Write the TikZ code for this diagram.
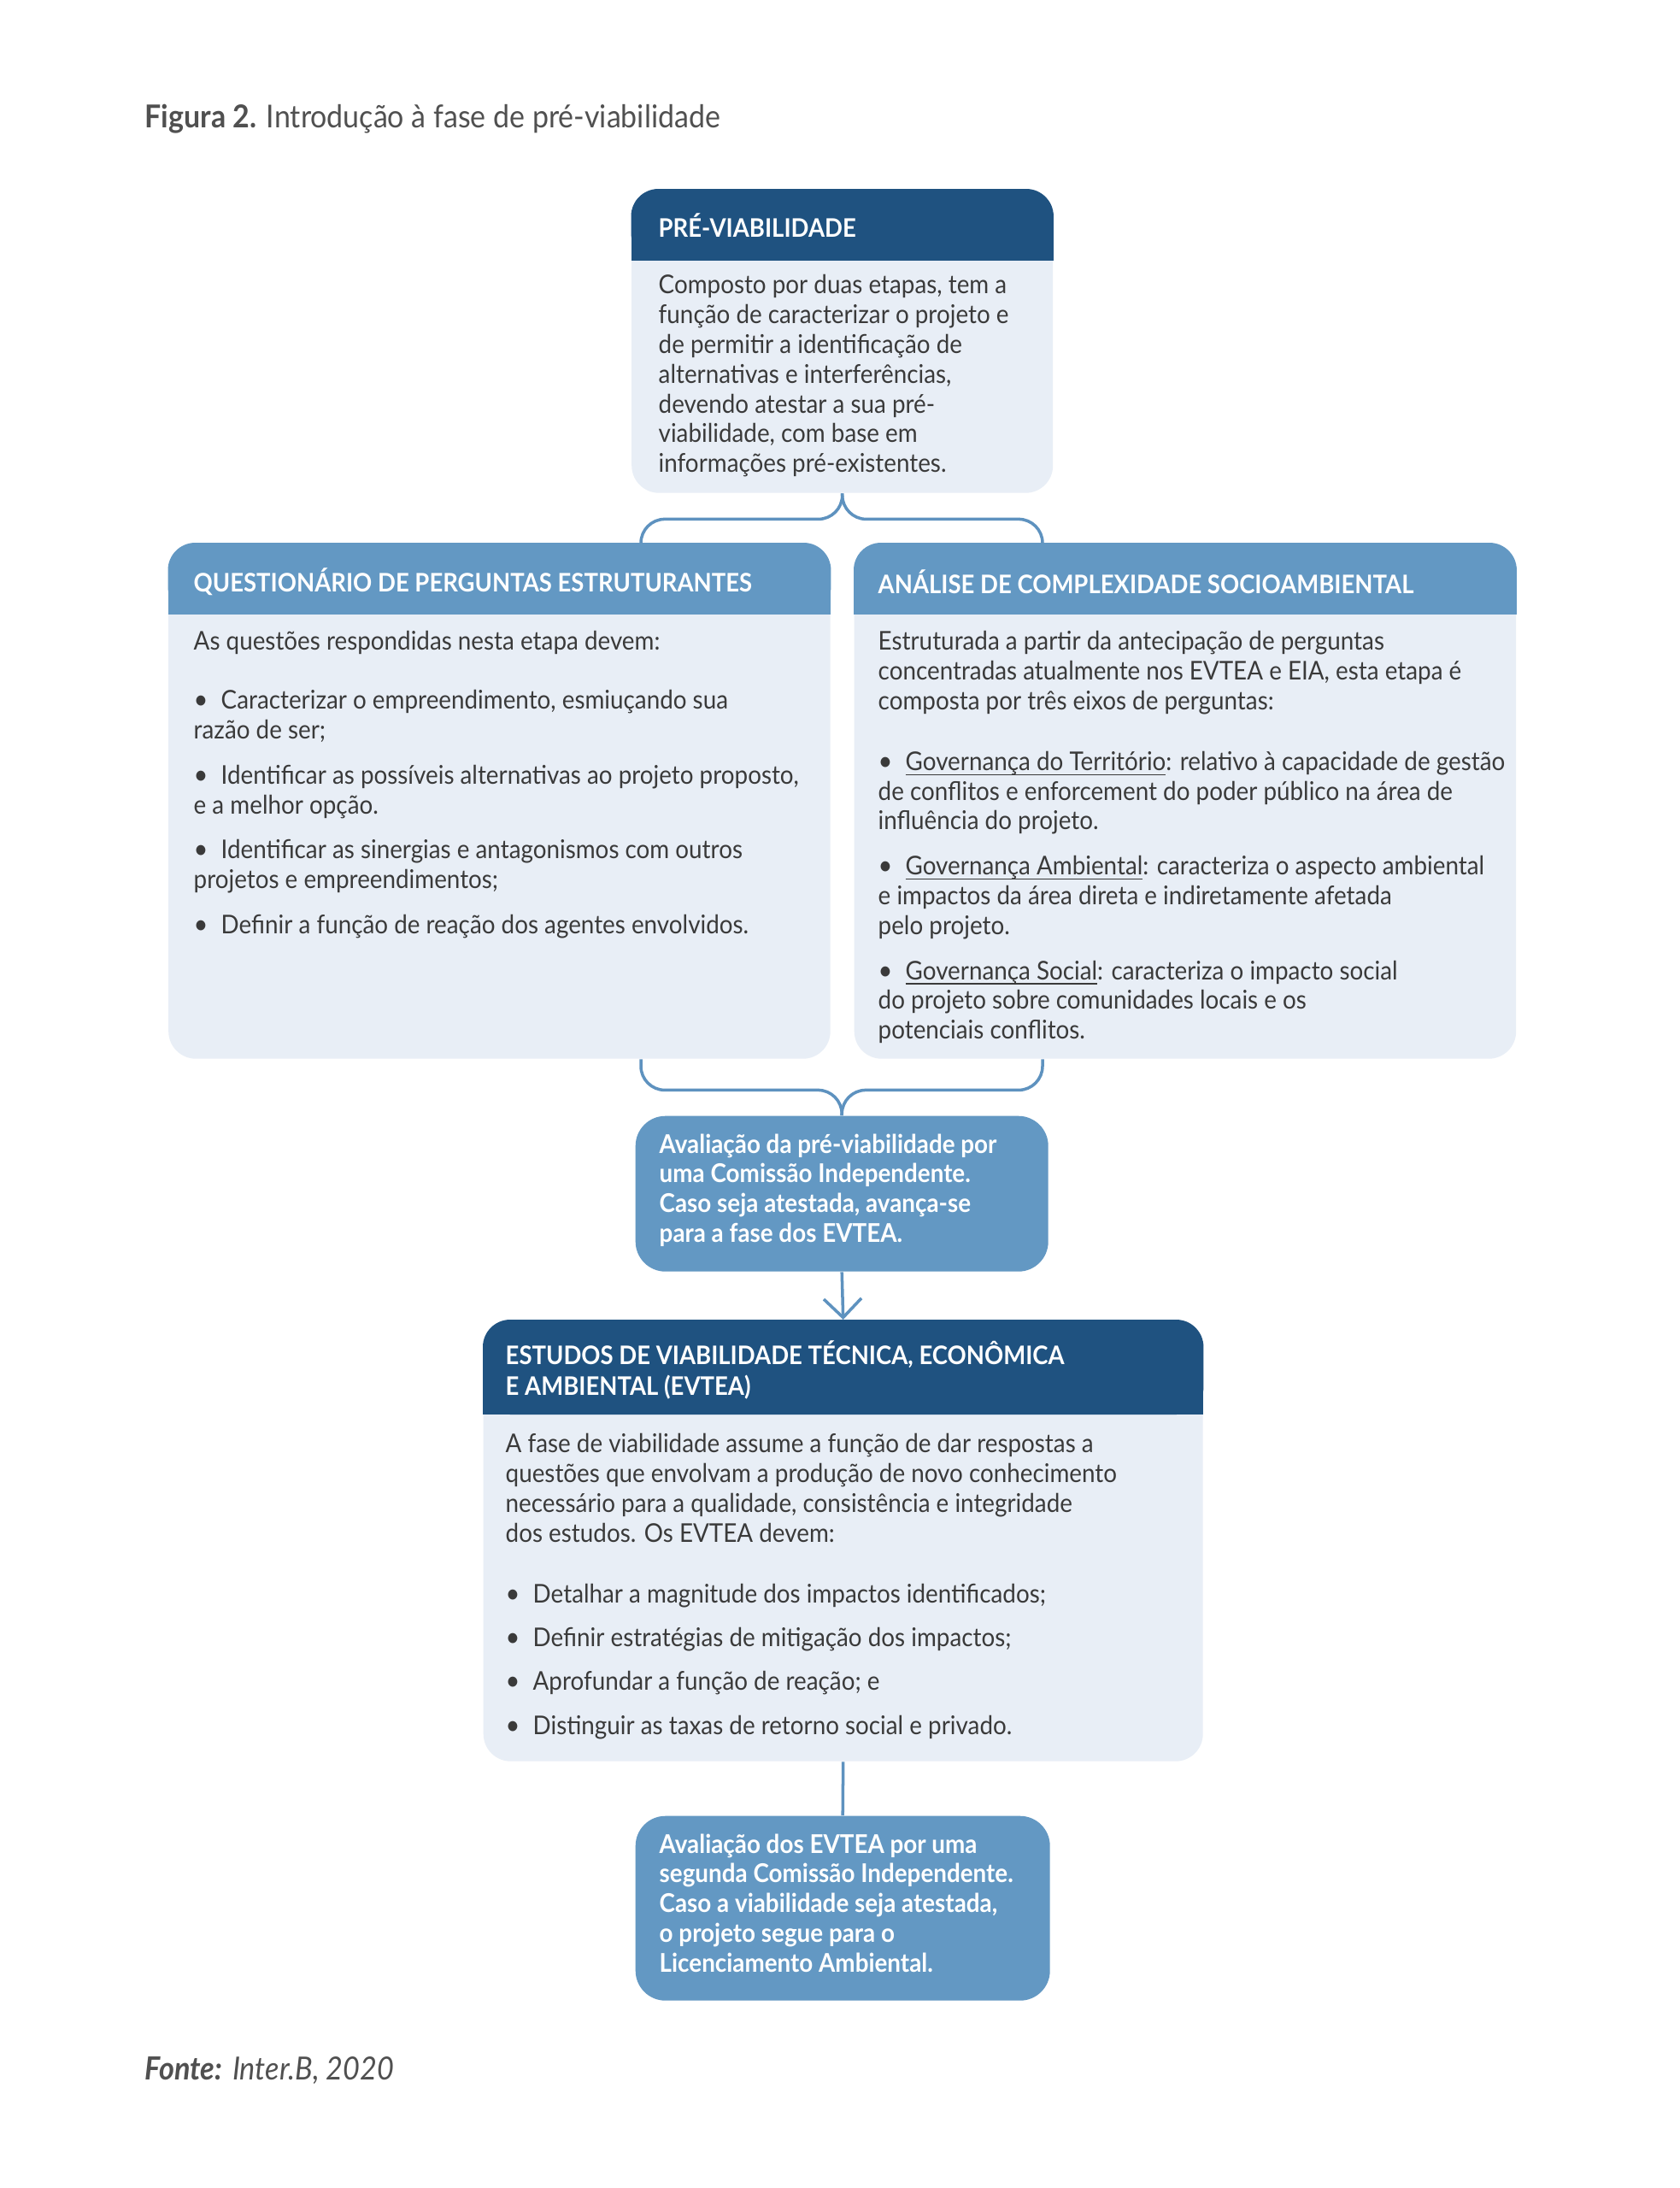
\documentclass[tikz,border=0pt]{standalone}
\usepackage{fontspec}
\setmainfont{Lato}[FakeStretch=0.92]
\usepackage{tikz}
\usetikzlibrary{calc}
\usetikzlibrary{arrows.meta}
\usepackage{xcolor}

\definecolor{hdrdark}{HTML}{1F5280}
\definecolor{hdrmid}{HTML}{6398C3}
\definecolor{cardfill}{HTML}{E8EEF6}
\definecolor{connblue}{HTML}{5E92BF}
\definecolor{bodygray}{HTML}{3A3A3A}
\definecolor{titlegray}{HTML}{505050}

\tikzset{
    card/.style={fill=cardfill, rounded corners=0.32cm, inner sep=0pt, anchor=north west},
    bluecard/.style={fill=hdrmid, rounded corners=0.35cm, inner sep=0pt, anchor=north west},
    hdrtxt/.style={anchor=west, inner sep=0pt, text=white, align=left, font=\fontsize{8.5}{10.4}\selectfont\bfseries},
    bodytxt/.style={anchor=north west, inner sep=0pt, text=bodygray, align=left, font=\fontsize{8.6}{9.9}\selectfont},
    whitetxt/.style={anchor=north west, inner sep=0pt, text=white, align=left, font=\fontsize{8.6}{9.9}\selectfont\bfseries},
    conn/.style={draw=connblue, line width=1pt, rounded corners=0.28cm},
}
\newcommand{\bul}{{\small\textbullet}\hspace{0.5em}}
\newcommand{\ulgov}[1]{\underline{\smash{#1}}}

\begin{document}
\begin{tikzpicture}
    \fill[white] (0,0) rectangle (19.65,-25.60);
    \useasboundingbox (0,0) rectangle (19.65,-25.60);

    % title and source
    \node[anchor=west, inner sep=0pt, text=titlegray, font=\fontsize{10.5}{12}\selectfont] (title) at (1.69,-1.39)
        {\textbf{Figura 2.} Introdução à fase de pré-viabilidade};
    \node[anchor=west, inner sep=0pt, text=titlegray, font=\fontsize{10.6}{12}\selectfont] (fonte) at (1.69,-24.23)
        {\textbf{\textit{Fonte:}} \textit{Inter.B, 2020}};

    % pre-viabilidade
    \node[card, minimum width=4.93cm, minimum height=3.55cm] (pre) at (7.385,-2.21) {};
    \fill[hdrdark, rounded corners=0.32cm] (pre.north west) rectangle ($(pre.north east)+(0,-0.835)$);
    \fill[hdrdark] ($(pre.north west)+(0,-0.45)$) rectangle ($(pre.north east)+(0,-0.835)$);
    \node[hdrtxt] (pretit) at (7.70,-2.64) {PRÉ-VIABILIDADE};
    \node[bodytxt] (pretxt) at (7.70,-3.21) {Composto por duas etapas, tem a\\
        função de caracterizar o projeto e\\
        de permitir a identificação de\\
        alternativas e interferências,\\
        devendo atestar a sua pré-\\
        viabilidade, com base em\\
        informações pré-existentes.};

    % questionario
    \node[card, minimum width=7.745cm, minimum height=6.03cm] (qpe) at (1.965,-6.35) {};
    \fill[hdrmid, rounded corners=0.32cm] (qpe.north west) rectangle ($(qpe.north east)+(0,-0.835)$);
    \fill[hdrmid] ($(qpe.north west)+(0,-0.45)$) rectangle ($(qpe.north east)+(0,-0.835)$);
    \node[hdrtxt] (qpetit) at (2.26,-6.81) {QUESTIONÁRIO DE PERGUNTAS ESTRUTURANTES};
    \node[bodytxt] (qpetxt) at (2.26,-7.38) {As questões respondidas nesta etapa devem:\\[0.34cm]
        \bul Caracterizar o empreendimento, esmiuçando sua\\
        razão de ser;\\[0.18cm]
        \bul Identificar as possíveis alternativas ao projeto proposto,\\
        e a melhor opção.\\[0.18cm]
        \bul Identificar as sinergias e antagonismos com outros\\
        projetos e empreendimentos;\\[0.18cm]
        \bul Definir a função de reação dos agentes envolvidos.};

    % analise
    \node[card, minimum width=7.745cm, minimum height=6.03cm] (acs) at (9.99,-6.35) {};
    \fill[hdrmid, rounded corners=0.32cm] (acs.north west) rectangle ($(acs.north east)+(0,-0.835)$);
    \fill[hdrmid] ($(acs.north west)+(0,-0.45)$) rectangle ($(acs.north east)+(0,-0.835)$);
    \node[hdrtxt] (acstit) at (10.27,-6.81) {ANÁLISE DE COMPLEXIDADE SOCIOAMBIENTAL};
    \node[bodytxt] (acstxt) at (10.27,-7.38) {Estruturada a partir da antecipação de perguntas\\
        concentradas atualmente nos EVTEA e EIA, esta etapa é\\
        composta por três eixos de perguntas:\\[0.36cm]
        \bul\ulgov{Governança do Território}: relativo à capacidade de gestão\\
        de conflitos e enforcement do poder público na área de\\
        influência do projeto.\\[0.18cm]
        \bul\ulgov{Governança Ambiental}: caracteriza o aspecto ambiental\\
        e impactos da área direta e indiretamente afetada\\
        pelo projeto.\\[0.18cm]
        \bul\ulgov{Governança Social}: caracteriza o impacto social\\
        do projeto sobre comunidades locais e os\\
        potenciais conflitos.};

    % avaliacao 1
    \node[bluecard, minimum width=4.83cm, minimum height=1.82cm] (aval) at (7.43,-13.05) {};
    \node[whitetxt] (avaltxt) at (7.71,-13.26) {Avaliação da pré-viabilidade por\\
        uma Comissão Independente.\\
        Caso seja atestada, avança-se\\
        para a fase dos EVTEA.};

    % evtea
    \node[card, minimum width=8.42cm, minimum height=5.16cm] (evt) at (5.65,-15.44) {};
    \fill[hdrdark, rounded corners=0.32cm] (evt.north west) rectangle ($(evt.north east)+(0,-1.11)$);
    \fill[hdrdark] ($(evt.north west)+(0,-0.45)$) rectangle ($(evt.north east)+(0,-1.11)$);
    \node[hdrtxt] (evttit) at (5.91,-16.03) {ESTUDOS DE VIABILIDADE TÉCNICA, ECONÔMICA\\
        E AMBIENTAL (EVTEA)};
    \node[bodytxt] (evttxt) at (5.91,-16.77) {A fase de viabilidade assume a função de dar respostas a\\
        questões que envolvam a produção de novo conhecimento\\
        necessário para a qualidade, consistência e integridade\\
        dos estudos. Os EVTEA devem:\\[0.36cm]
        \bul Detalhar a magnitude dos impactos identificados;\\[0.165cm]
        \bul Definir estratégias de mitigação dos impactos;\\[0.165cm]
        \bul Aprofundar a função de reação; e\\[0.165cm]
        \bul Distinguir as taxas de retorno social e privado.};

    % avaliacao 2
    \node[bluecard, minimum width=4.85cm, minimum height=2.16cm] (fin) at (7.43,-21.24) {};
    \node[whitetxt] (fintxt) at (7.71,-21.45) {Avaliação dos EVTEA por uma\\
        segunda Comissão Independente.\\
        Caso a viabilidade seja atestada,\\
        o projeto segue para o\\
        Licenciamento Ambiental.};

    % connectors
    \coordinate (qleg) at (7.50,0);
    \coordinate (aleg) at (12.20,0);
    \draw[conn] (pre.south) -- ++(0,-0.30) -| (qpe.north -| qleg);
    \draw[conn] (pre.south) -- ++(0,-0.30) -| (acs.north -| aleg);
    \draw[conn] (qpe.south -| qleg) -- ++(0,-0.36) -| (aval.north);
    \draw[conn] (acs.south -| aleg) -- ++(0,-0.36) -| (aval.north);
    \draw[conn, -{Straight Barb[length=2.2mm, width=4.4mm]}] (aval.south) -- (evt.north);
    \draw[conn] (evt.south) -- (fin.north);
\end{tikzpicture}
\end{document}
